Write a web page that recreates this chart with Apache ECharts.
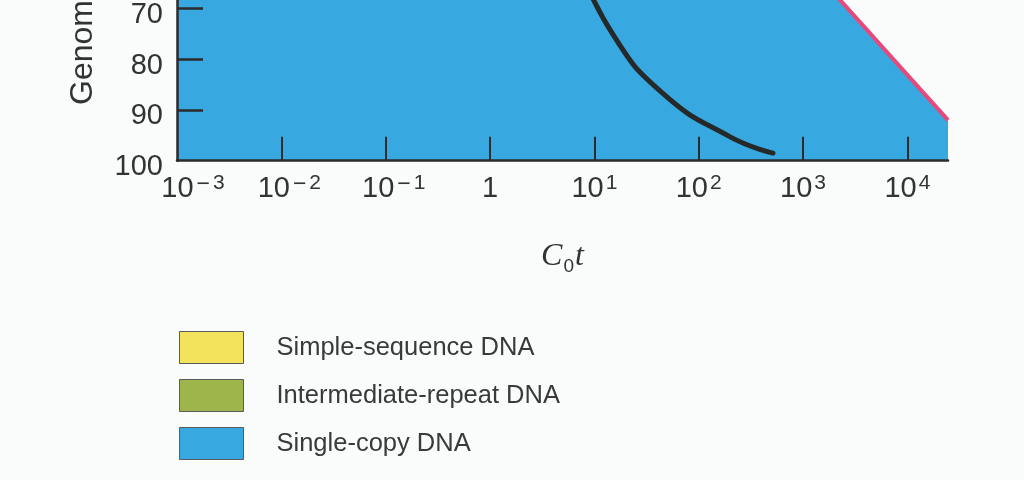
<!DOCTYPE html>
<html>
<head>
<meta charset="utf-8">
<style>
  html, body { margin: 0; padding: 0; background: #fafbfb; }
  #main { width: 1024px; height: 480px; }
</style>
<script src="https://cdn.jsdelivr.net/npm/echarts@6/dist/echarts.min.js"></script>
</head>
<body>
<div id="main"></div>
<script>
// black reassociation curve
const curveCot = [6.6, 14.8, 45, 200, 515];
const curvePct = [60, 74.9, 86.7, 95.3, 98.5];
// outline of the single-copy (blue) region, pink edge on the right
const singleCot = [0.001, 1000, 2270, 24500];
const singlePct = [60, 60, 68.4, 92];

const legendNames = ['Simple-sequence DNA', 'Intermediate-repeat DNA', 'Single-copy DNA'];
const legendColors = ['#f3e25c', '#9db54b', '#38a9e0'];

const xTickValues = [0.001, 0.01, 0.1, 1, 10, 100, 1000, 10000];
const yTickValues = [60, 70, 80, 90, 100];

const ink = '#2b2b2b';
const textColor = '#333333';

function zip(a, b) {
    return a.map((v, i) => [v, b[i]]);
}

function cotLabel(v) {
    let e = Math.round(Math.log10(v));
    if (e === 0) return '{b|1}';
    if (e > 0) return '{b|10}{s|' + e + '}';
    // negative powers sit a little right of their tick in the original
    let pad = e === -3 ? '{p2|}' : '{p1|}';
    return pad + '{b|10}{m|\u2212}{s|' + (-e) + '}';
}

let chartDom = document.getElementById('main');
let myChart = echarts.init(chartDom);

let option = {
    animation: false,
    backgroundColor: '#fafbfb',
    grid: {
        left: 177,
        right: 76,
        top: -42.5,
        bottom: 319.3,
        outerBoundsMode: 'none',
        containLabel: false
    },
    legend: {
        orient: 'vertical',
        left: 179,
        top: 331,
        padding: 0,
        itemWidth: 64,
        itemHeight: 32,
        itemGap: 15,
        selectedMode: false,
        data: legendNames.map((n, i) => ({
            name: n,
            icon: 'rect',
            itemStyle: { color: legendColors[i], borderColor: '#5a5a5a', borderWidth: 1 }
        })),
        textStyle: {
            fontFamily: 'Liberation Sans',
            fontSize: 25.5,
            color: '#3a3a3a',
            padding: [0, 0, 0, 28]
        }
    },
    xAxis: {
        type: 'log',
        logBase: 10,
        z: 5,
        min: xTickValues[0],
        max: singleCot[singleCot.length - 1],
        splitLine: { show: false },
        axisLine: { lineStyle: { color: ink, width: 2.5 } },
        axisTick: {
            inside: true,
            length: 24,
            lineStyle: { color: ink, width: 2 },
            customValues: xTickValues.slice(1)
        },
        axisLabel: {
            customValues: xTickValues,
            margin: 12,
            formatter: cotLabel,
            rich: {
                p1: { width: 16 },
                p2: { width: 32 },
                b: { fontFamily: 'Liberation Sans', fontSize: 29, color: textColor, lineHeight: 32 },
                m: { fontFamily: 'Liberation Sans', fontSize: 23, color: textColor, verticalAlign: 'top', lineHeight: 20, padding: [0, 1, 0, 3] },
                s: { fontFamily: 'Liberation Sans', fontSize: 21, color: textColor, verticalAlign: 'top', lineHeight: 22, padding: [0, 0, 0, 2] }
            }
        },
        name: '{i|C}{s|0}{i|t}',
        nameLocation: 'middle',
        nameGap: 80,
        nameTextStyle: {
            rich: {
                i: { fontFamily: 'Liberation Serif', fontStyle: 'italic', fontSize: 32, color: textColor },
                s: { fontFamily: 'Liberation Sans', fontSize: 19, color: textColor, verticalAlign: 'bottom', padding: [0, 1, -4, 1] }
            }
        }
    },
    yAxis: {
        type: 'value',
        inverse: true,
        z: 5,
        min: yTickValues[0],
        max: yTickValues[yTickValues.length - 1],
        splitLine: { show: false },
        axisLine: { show: true, lineStyle: { color: ink, width: 2.5 } },
        axisTick: {
            show: true,
            inside: true,
            length: 26,
            lineStyle: { color: ink, width: 2.5 },
            customValues: yTickValues.slice(1, -1)
        },
        axisLabel: {
            customValues: yTickValues,
            margin: 14,
            formatter: v => '{v|' + v + '}',
            rich: {
                v: { fontFamily: 'Liberation Sans', fontSize: 29, color: textColor, padding: [13, 0, 0, 0] }
            }
        }
    },
    graphic: [{
        type: 'text',
        x: 83,
        y: 105,
        rotation: Math.PI / 2,
        style: {
            text: 'Genome reassociated (%)',
            fontFamily: 'Liberation Sans',
            fontSize: 32,
            fill: textColor,
            textAlign: 'left',
            textVerticalAlign: 'middle'
        }
    }],
    series: [{
        name: legendNames[0],
        type: 'line',
        data: [],
        color: legendColors[0]
    }, {
        name: legendNames[1],
        type: 'line',
        data: [],
        color: legendColors[1]
    }, {
        name: legendNames[2],
        type: 'line',
        color: legendColors[2],
        data: zip(singleCot, singlePct),
        symbol: 'none',
        silent: true,
        z: 1,
        lineStyle: { width: 0 },
        areaStyle: { color: legendColors[2], opacity: 1, origin: 'end' }
    }, {
        name: 'single-copy edge',
        type: 'line',
        data: zip(singleCot.slice(1), singlePct.slice(1)),
        symbol: 'none',
        silent: true,
        z: 3,
        lineStyle: { color: '#e8487a', width: 4 }
    }, {
        name: 'reassociation',
        type: 'line',
        data: zip(curveCot, curvePct),
        smooth: 0.5,
        symbol: 'none',
        silent: true,
        z: 4,
        lineStyle: { color: '#252929', width: 5, cap: 'round' }
    }]
};

option && myChart.setOption(option);
</script>
</body>
</html>
